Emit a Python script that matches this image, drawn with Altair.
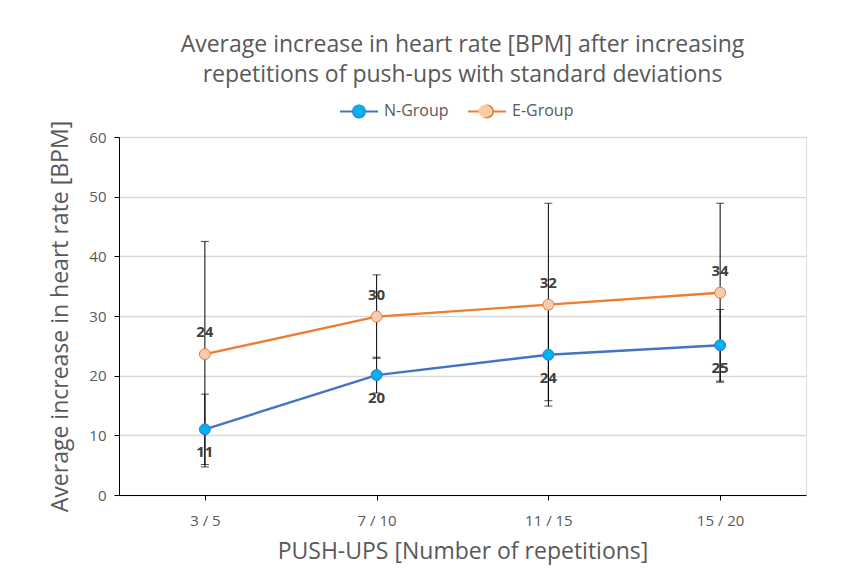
import altair as alt
import pandas as pd

categories = ["3 / 5", "7 / 10", "11 / 15", "15 / 20"]
groups = ["N-Group", "E-Group"]
n_mean = [11.0, 20.1, 23.5, 25.1]
n_sd = [5.9, 3.0, 7.7, 6.0]
e_mean = [23.6, 29.9, 31.9, 33.9]
e_sd = [18.9, 7.0, 17.0, 15.0]

rows = []
for g, means, sds in [("N-Group", n_mean, n_sd), ("E-Group", e_mean, e_sd)]:
    for c, m, s in zip(categories, means, sds):
        rows.append({"group": g, "cat": c, "mean": m, "lo": m - s, "hi": m + s,
                     "label": str(int(round(m)))})
df = pd.DataFrame(rows)

GRAY = "#595959"
FONT = "Open Sans"
DARK = ["#4472C4", "#ED7D31"]
LIGHT = ["#00B0F0", "#F8CBAD"]

x_enc = alt.X("cat:N", sort=categories,
              scale=alt.Scale(type="point", padding=0.5),
              axis=alt.Axis(title="PUSH-UPS [Number of repetitions]", labelAngle=0,
                            domainColor="#000000", tickColor="#000000", tickSize=5,
                            labelPadding=13, titlePadding=12,
                            labelFontSize=15, titleFontSize=23, labelColor=GRAY,
                            titleColor=GRAY, labelFont=FONT, titleFont=FONT,
                            titleFontWeight="normal", grid=False))
y_scale = alt.Scale(domain=[0, 60], nice=False)
y_axis = alt.Axis(title="Average increase in heart rate [BPM]", values=list(range(0, 61, 10)),
                  domainColor="#000000", tickColor="#000000", tickSize=5,
                  gridColor="#D9D9D9", gridWidth=1.3, labelPadding=8, titlePadding=16,
                  labelFontSize=15, titleFontSize=23, labelColor=GRAY, titleColor=GRAY,
                  labelFont=FONT, titleFont=FONT, titleFontWeight="normal")

line_sym = "M-3,0H-0.95M0.95,0H3M0.95,0A0.95,0.95,0,1,1,-0.95,0A0.95,0.95,0,1,1,0.95,0"
common = dict(title=None, orient="none", direction="horizontal",
              legendX=232, legendY=-34, symbolSize=160,
              labelFontSize=16, labelColor=GRAY, labelFont=FONT, labelOffset=17)
line_legend = alt.Legend(symbolType=line_sym, symbolStrokeWidth=2,
                         symbolFillColor="transparent", columnPadding=15, **common)
dot_legend = alt.Legend(symbolType="circle", symbolStrokeColor="transparent",
                        symbolStrokeWidth=0, columnPadding=28, labelOpacity=0, **common)

base = alt.Chart(df)

line = base.mark_line(strokeWidth=2.4).encode(
    x=x_enc,
    y=alt.Y("mean:Q", scale=y_scale, axis=y_axis),
    color=alt.Color("group:N", sort=groups,
                    scale=alt.Scale(domain=groups, range=DARK), legend=line_legend),
)

err = base.mark_rule(color="#000000", strokeWidth=1).encode(
    x=alt.X("cat:N", sort=categories), y=alt.Y("lo:Q"), y2="hi:Q")
cap_lo = base.mark_tick(color="#000000", size=8, thickness=1).encode(
    x=alt.X("cat:N", sort=categories), y=alt.Y("lo:Q"))
cap_hi = base.mark_tick(color="#000000", size=8, thickness=1).encode(
    x=alt.X("cat:N", sort=categories), y=alt.Y("hi:Q"))

pts = base.mark_point(filled=True, size=120, strokeWidth=1, opacity=1).encode(
    x=alt.X("cat:N", sort=categories),
    y=alt.Y("mean:Q"),
    color=alt.Color("group:N", sort=groups,
                    scale=alt.Scale(domain=groups, range=LIGHT), legend=dot_legend),
    stroke=alt.Stroke("group:N", sort=groups,
                      scale=alt.Scale(domain=groups, range=DARK), legend=None),
    shape=alt.value("circle"),
)

txt_n = base.transform_filter(alt.datum.group == "N-Group").mark_text(
    dy=23, fontSize=15, fontWeight="bold", color="#404040", font=FONT).encode(
    x=alt.X("cat:N", sort=categories), y=alt.Y("mean:Q"), text="label:N")
txt_e = base.transform_filter(alt.datum.group == "E-Group").mark_text(
    dy=-22, fontSize=15, fontWeight="bold", color="#404040", font=FONT).encode(
    x=alt.X("cat:N", sort=categories), y=alt.Y("mean:Q"), text="label:N")

chart = alt.layer(line, err, cap_lo, cap_hi, pts, txt_n, txt_e).resolve_scale(
    color="independent"
).properties(
    width=687, height=358,
    title=alt.TitleParams(
        text=["Average increase in heart rate [BPM] after increasing",
              "repetitions of push-ups with standard deviations"],
        fontSize=23, font=FONT, fontWeight="normal", color=GRAY, anchor="middle",
        lineHeight=30, offset=16),
    autosize=alt.AutoSizeParams(type="none"),
    padding={"left": 111, "top": 129, "right": 30, "bottom": 77},
).configure_view(stroke=None).configure(background="#FFFFFF")

chart.save("out.html", embed_options={"renderer": "svg", "actions": False})
